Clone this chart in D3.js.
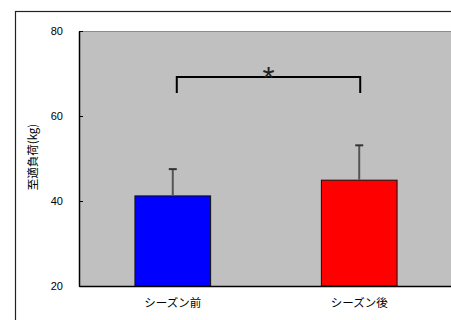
<!DOCTYPE html>
<html>
<head>
<meta charset="utf-8">
<script src="https://cdn.jsdelivr.net/npm/d3@7"></script>
<style>
  html, body { margin: 0; padding: 0; background: #fff; }
  svg { display: block; }
</style>
</head>
<body>
<svg id="chart" width="451" height="320"></svg>
<script>
// Training load before and after the season (mean ± SD)
const categories = ["シーズン前", "シーズン後"];
const means = [41.2, 44.9];
const sds = [6.3, 8.2];
const barColors = ["#0000ff", "#ff0000"];
const yTicks = [20, 40, 60, 80];
const yLabel = "至適負荷(kg)";
const sigMark = "*";
const bracketLevels = [69.2, 65.4]; // bracket top, bracket leg bottom

const svg = d3.select("#chart");
const plot = { left: 79, top: 31, right: 453, bottom: 286 };

const x = d3.scaleBand()
  .domain(categories)
  .range([plot.left, plot.right])
  .paddingInner(0.594)
  .paddingOuter(0.3);

const y = d3.scaleLinear()
  .domain([20, 80])
  .range([plot.bottom, plot.top]);

const jp = "'Noto Sans CJK JP', sans-serif";
const num = "'Liberation Sans', Arial, sans-serif";

// outer frame
svg.append("rect")
  .attr("x", 15.5).attr("y", 11.5)
  .attr("width", 480).attr("height", 400)
  .attr("fill", "#fff")
  .attr("stroke", "#222").attr("stroke-width", 1.2);

// plot background
svg.append("rect")
  .attr("x", plot.left).attr("y", plot.top)
  .attr("width", plot.right - plot.left)
  .attr("height", plot.bottom - plot.top)
  .attr("fill", "#c0c0c0");
svg.append("line")
  .attr("x1", plot.left).attr("x2", plot.right)
  .attr("y1", plot.top + 0.5).attr("y2", plot.top + 0.5)
  .attr("stroke", "#8c8c8c").attr("stroke-width", 1);

// bars
svg.selectAll("rect.bar")
  .data(categories)
  .join("rect")
  .attr("class", "bar")
  .attr("x", d => x(d))
  .attr("y", (d, i) => y(means[i]))
  .attr("width", x.bandwidth())
  .attr("height", (d, i) => y(20) - y(means[i]))
  .attr("fill", (d, i) => barColors[i])
  .attr("stroke", "#111").attr("stroke-width", 1);

// error bars (upper)
const cx = d => x(d) + x.bandwidth() / 2;
svg.selectAll("line.err")
  .data(categories)
  .join("line")
  .attr("class", "err")
  .attr("x1", cx).attr("x2", cx)
  .attr("y1", (d, i) => y(means[i]) - 0.5)
  .attr("y2", (d, i) => y(means[i] + sds[i]))
  .attr("stroke", "#555").attr("stroke-width", 2);
svg.selectAll("line.cap")
  .data(categories)
  .join("line")
  .attr("class", "cap")
  .attr("x1", d => cx(d) - 4).attr("x2", d => cx(d) + 4)
  .attr("y1", (d, i) => y(means[i] + sds[i]))
  .attr("y2", (d, i) => y(means[i] + sds[i]))
  .attr("stroke", "#333").attr("stroke-width", 2);

// y axis
const yAxis = d3.axisLeft(y).tickValues(yTicks).tickSizeInner(-4).tickSizeOuter(0).tickPadding(16);
const gy = svg.append("g").attr("transform", `translate(${plot.left},0)`).call(yAxis);
gy.select(".domain").attr("stroke", "#000").attr("stroke-width", 1.5);
gy.selectAll(".tick line").attr("stroke", "#000");
gy.selectAll(".tick text")
  .attr("font-family", num).attr("font-size", 11).attr("fill", "#000");

// x axis
const xAxis = d3.axisBottom(x).tickSize(0).tickPadding(13);
const gx = svg.append("g").attr("transform", `translate(0,${plot.bottom})`).call(xAxis);
gx.select(".domain").attr("stroke", "#000").attr("stroke-width", 1.5);
gx.selectAll(".tick text")
  .attr("font-family", jp).attr("font-size", 11.5).attr("fill", "#000");

// y axis title
svg.append("text")
  .attr("transform", `translate(37,157) rotate(-90)`)
  .attr("text-anchor", "middle")
  .attr("font-family", jp).attr("font-size", 11.5)
  .attr("fill", "#000")
  .text(yLabel);

// significance bracket
const bx1 = cx(categories[0]) + 4;
const bx2 = cx(categories[1]) + 1;
svg.append("path")
  .attr("d", `M${bx1},${y(bracketLevels[1])}V${y(bracketLevels[0])}H${bx2}V${y(bracketLevels[1])}`)
  .attr("fill", "none").attr("stroke", "#000").attr("stroke-width", 2);
svg.append("text")
  .attr("x", (bx1 + bx2) / 2)
  .attr("y", y(bracketLevels[0]) + 12.5)
  .attr("text-anchor", "middle")
  .attr("font-family", num).attr("font-size", 31)
  .attr("fill", "#222")
  .text(sigMark);
</script>
</body>
</html>
